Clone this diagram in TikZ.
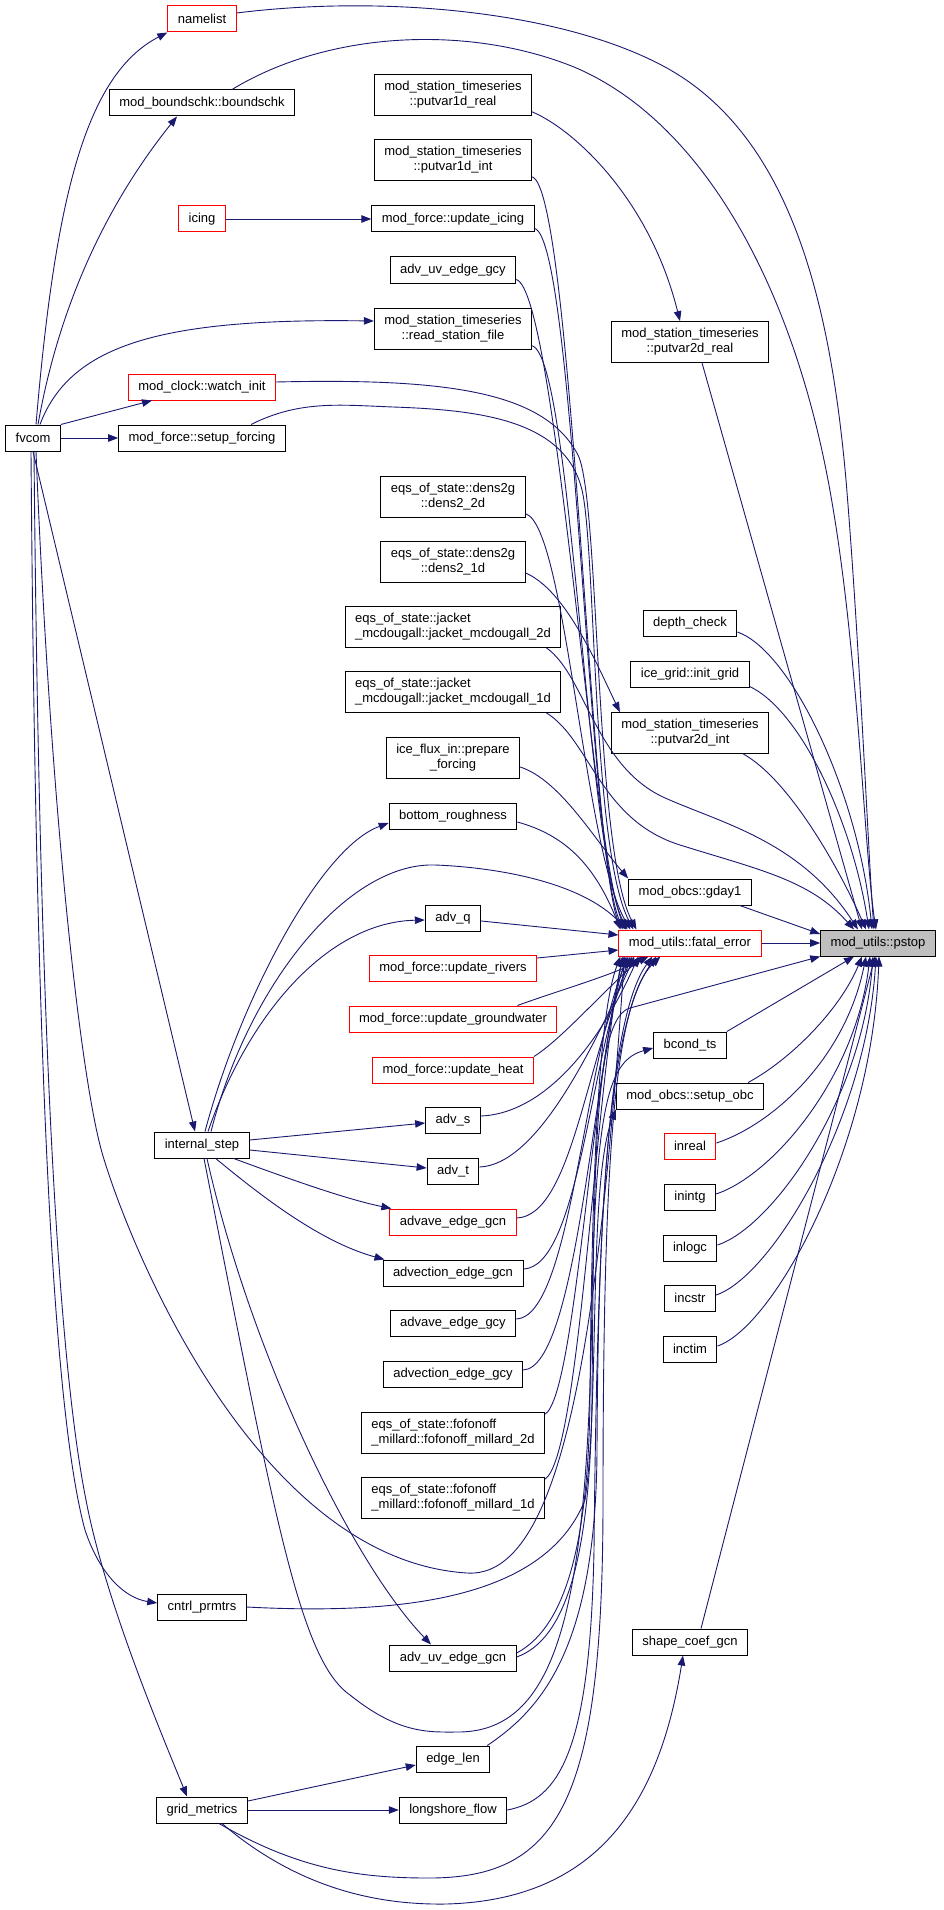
\documentclass[tikz,border=0pt]{standalone}
\usepackage{fontspec}
\setmainfont{Liberation Sans}
\usetikzlibrary{arrows.meta}
\definecolor{MidBlue}{HTML}{191970}
\definecolor{FrameRed}{HTML}{FF0000}
\definecolor{RootGray}{HTML}{BFBFBF}

\begin{document}
\begin{tikzpicture}[x = 1pt, y = -1pt,
                    >={Triangle[length = 10pt, width = 7.5pt]},
                    font = \fontsize{13}{15}\selectfont,
                    func/.style = {draw = black, line width = 1pt, fill = white, inner xsep = 10pt, inner ysep = 6.8pt, minimum height = 26pt, align = center},
                    redfunc/.style = {func, draw = FrameRed},
                    rootfunc/.style = {func, fill = RootGray},
                    link/.style = {->, draw = MidBlue, line width = 0.9pt}]
            \useasboundingbox (0,0) rectangle (943,1910);

            % Draw the callers on the left:
            \node [func] (fvcom) at (33,438) {fvcom};
            \node [redfunc] (namelist) at (202,19) {namelist};
            \node [func] (boundschk) at (202,103) {mod\_boundschk::boundschk};
            \node [redfunc] (icing) at (202,219) {icing};
            \node [redfunc] (watchinit) at (202,387) {mod\_clock::watch\_init};
            \node [func] (setupforcing) at (202,438) {mod\_force::setup\_forcing};
            \node [func] (internalstep) at (202,1145) {internal\_step};
            \node [func] (cntrlprmtrs) at (202,1607) {cntrl\_prmtrs};
            \node [func] (gridmetrics) at (202,1810) {grid\_metrics};

            % Draw the middle column:
            \node [func] (put1dreal) at (453,95) {mod\_station\_timeseries\\::putvar1d\_real};
            \node [func] (put1dint) at (453,160) {mod\_station\_timeseries\\::putvar1d\_int};
            \node [func] (updicing) at (453,219) {mod\_force::update\_icing};
            \node [func] (advuvgcy) at (453,270) {adv\_uv\_edge\_gcy};
            \node [func] (readstation) at (453,329) {mod\_station\_timeseries\\::read\_station\_file};
            \node [func] (dens2d) at (453,497) {eqs\_of\_state::dens2g\\::dens2\_2d};
            \node [func] (dens1d) at (453,562) {eqs\_of\_state::dens2g\\::dens2\_1d};
            \node [func, align = left] (jacket2d) at (453,627) {eqs\_of\_state::jacket\\\_mcdougall::jacket\_mcdougall\_2d};
            \node [func, align = left] (jacket1d) at (453,692) {eqs\_of\_state::jacket\\\_mcdougall::jacket\_mcdougall\_1d};
            \node [func] (prepforcing) at (453,758) {ice\_flux\_in::prepare\\\_forcing};
            \node [func] (bottomrough) at (453,816) {bottom\_roughness};
            \node [func] (advq) at (453,918) {adv\_q};
            \node [redfunc] (updrivers) at (453,968) {mod\_force::update\_rivers};
            \node [redfunc] (updgw) at (453,1019) {mod\_force::update\_groundwater};
            \node [redfunc] (updheat) at (453,1070) {mod\_force::update\_heat};
            \node [func] (advs) at (453,1120) {adv\_s};
            \node [func] (advt) at (453,1171) {adv\_t};
            \node [redfunc] (advavegcn) at (453,1222) {advave\_edge\_gcn};
            \node [func] (advectgcn) at (453,1273) {advection\_edge\_gcn};
            \node [func] (advavegcy) at (453,1323) {advave\_edge\_gcy};
            \node [func] (advectgcy) at (453,1374) {advection\_edge\_gcy};
            \node [func, align = left] (fofonoff2d) at (453,1433) {eqs\_of\_state::fofonoff\\\_millard::fofonoff\_millard\_2d};
            \node [func, align = left] (fofonoff1d) at (453,1498) {eqs\_of\_state::fofonoff\\\_millard::fofonoff\_millard\_1d};
            \node [func] (advuvgcn) at (453,1658) {adv\_uv\_edge\_gcn};
            \node [func] (edgelen) at (453,1759) {edge\_len};
            \node [func] (longshore) at (453,1810) {longshore\_flow};

            % Draw the column next to pstop:
            \node [func] (put2dreal) at (690,342) {mod\_station\_timeseries\\::putvar2d\_real};
            \node [func] (depthcheck) at (690,623) {depth\_check};
            \node [func] (initgrid) at (690,674) {ice\_grid::init\_grid};
            \node [func] (put2dint) at (690,733) {mod\_station\_timeseries\\::putvar2d\_int};
            \node [func] (gday) at (690,892) {mod\_obcs::gday1};
            \node [redfunc] (fatalerror) at (690,943) {mod\_utils::fatal\_error};
            \node [func] (bcondts) at (690,1045) {bcond\_ts};
            \node [func] (setupobc) at (690,1096) {mod\_obcs::setup\_obc};
            \node [redfunc] (inreal) at (690,1146) {inreal};
            \node [func] (inintg) at (690,1197) {inintg};
            \node [func] (inlogc) at (690,1248) {inlogc};
            \node [func] (incstr) at (690,1298) {incstr};
            \node [func] (inctim) at (690,1349) {inctim};
            \node [func] (shapecoef) at (690,1642) {shape\_coef\_gcn};

            \node [rootfunc] (pstop) at (878,943) {mod\_utils::pstop};

            % Draw the calls made by fvcom:
            \draw [link] ([xshift = 3pt]fvcom.north) .. controls (55,200) and (85,75) .. (namelist.south west);
            \draw [link] ([xshift = 5pt]fvcom.north) .. controls (60,300) and (110,200) .. ([xshift = -25pt]boundschk.south);
            \draw [link] (fvcom.north east) -- ([xshift = -50pt]watchinit.south);
            \draw [link] (fvcom.east) -- (setupforcing.west);
            \draw [link] ([xshift = 7pt]fvcom.north) .. controls (70,345) and (160,318) .. ([yshift = 8pt]readstation.west);
            \draw [link] (fvcom.south) -- ([xshift = -7pt]internalstep.north);
            \draw [link] ([xshift = -2pt]fvcom.south) .. controls (36,1100) and (55,1420) .. (85,1530)
                .. controls (100,1575) and (125,1598) .. ([yshift = 4pt]cntrlprmtrs.west);
            \draw [link] ([xshift = 1pt]fvcom.south) .. controls (40,1100) and (62,1380) .. (86,1500)
                .. controls (105,1600) and (160,1730) .. ([xshift = -15pt]gridmetrics.north);
            \draw [link] ([xshift = 3pt]fvcom.south) .. controls (50,800) and (80,1080) .. (103,1156)
                .. controls (133,1256) and (260,1560) .. (467,1573)
                .. controls (560,1579) and (598,1350) .. ([xshift = 6pt]fatalerror.south west);

            \draw [link] (icing.east) -- (updicing.west);

            % Draw the calls made by internal_step:
            \draw [link] ([yshift = 5pt]internalstep.east) -- ([yshift = -3pt]advs.west);
            \draw [link] ([yshift = -5pt]internalstep.east) -- ([yshift = 3pt]advt.west);
            \draw [link] ([xshift = -16pt]internalstep.south east) .. controls (300,1183) and (350,1200) .. ([xshift = 2pt]advavegcn.north west);
            \draw [link] ([xshift = -34pt]internalstep.south east) .. controls (260,1195) and (320,1242) .. ([xshift = 2pt]advectgcn.north west);
            \draw [link] ([xshift = 3pt]internalstep.north) .. controls (240,1000) and (320,848) .. ([yshift = -7pt]bottomrough.west);
            \draw [link] ([xshift = 6pt]internalstep.north) .. controls (250,1010) and (330,922) .. ([yshift = -2pt]advq.west);
            \draw [link] ([xshift = 9pt]internalstep.north) .. controls (250,980) and (350,862) .. (435,865)
                .. controls (490,867) and (580,880) .. ([xshift = 8pt]fatalerror.north west);
            \draw [link] ([xshift = 5pt]internalstep.south) .. controls (250,1350) and (350,1560) .. ([xshift = -22pt]advuvgcn.north);
            \draw [link] ([xshift = 2pt]internalstep.south) .. controls (275,1520) and (300,1660) .. (350,1695)
                .. controls (400,1735) and (430,1732) .. (460,1732)
                .. controls (560,1730) and (588,1600) .. (592,1300)
                .. controls (596,1100) and (610,1060) .. ([yshift = -3pt]bcondts.west);

            \draw [link] (cntrlprmtrs.east) .. controls (400,1615) and (545,1600) .. (585,1500)
                .. controls (600,1400) and (588,1180) .. (setupobc.south west);

            % Draw the calls made by grid_metrics:
            \draw [link] ([yshift = 9pt]gridmetrics.east) -- ([yshift = -6pt]edgelen.west);
            \draw [link] (gridmetrics.east) -- (longshore.west);
            \draw [link] ([xshift = 20pt]gridmetrics.south) .. controls (300,1890) and (380,1905) .. (446,1904)
                .. controls (600,1900) and (660,1800) .. ([xshift = -7pt]shapecoef.south);
            \draw [link] ([xshift = 17pt]gridmetrics.south) .. controls (300,1870) and (360,1878) .. (429,1878)
                .. controls (560,1878) and (603,1800) .. (603,1500)
                .. controls (603,1150) and (615,1000) .. ([xshift = 42pt]fatalerror.south west);

            % Draw the calls of fatal_error from below:
            \draw [link] ([xshift = -3pt]edgelen.north east) .. controls (540,1710) and (596,1650) .. (597,1450)
                .. controls (598,1200) and (610,1020) .. ([xshift = 38pt]fatalerror.south west);
            \draw [link] (longshore.east) .. controls (560,1800) and (590,1750) .. (594,1550)
                .. controls (597,1250) and (606,1020) .. ([xshift = 34pt]fatalerror.south west);
            \draw [link] ([yshift = 5pt]advuvgcn.east) .. controls (560,1630) and (588,1560) .. (590,1400)
                .. controls (592,1150) and (600,1010) .. ([xshift = 2pt]fatalerror.south west);
            \draw [link] ([yshift = 1pt]advuvgcn.east) .. controls (565,1640) and (590,1560) .. (592,1400)
                .. controls (594,1150) and (595,1018) .. (630,1008) -- (pstop.south west);
            \draw [link] ([yshift = -2pt]fofonoff2d.north east) .. controls (575,1395) and (590,1100) .. ([xshift = 5pt]fatalerror.south west);
            \draw [link] ([yshift = -2pt]fofonoff1d.north east) .. controls (580,1455) and (594,1100) .. ([xshift = 4pt]fatalerror.south west);
            \foreach \src/\cx/\dx in {advectgcy/594/8, advavegcy/584/10, advectgcn/590/12, advavegcn/586/14, advt/588/16, advs/592/20}
                \draw [link] ([yshift = 4pt]\src.east) .. controls +(55,-2) and (\cx,1060) .. ([xshift = \dx pt]fatalerror.south west);
            \draw [link] (updheat.north east) .. controls (560,1040) and (595,1000) .. ([xshift = 24pt]fatalerror.south west);
            \draw [link] ([xshift = -40pt]updgw.north east) .. controls (560,990) and (610,976) .. ([xshift = 30pt]fatalerror.south west);

            % Draw the calls of fatal_error from above:
            \foreach \src/\cx/\dx in {put1dint/590/3, updicing/588/5, advuvgcy/592/7, readstation/586/9, dens2d/584/12}
                \draw [link] ([yshift = 4pt]\src.south east) .. controls +(40,12) and (\cx,850) .. ([xshift = \dx pt]fatalerror.north west);
            \draw [link] ([yshift = 5pt]watchinit.east) .. controls (450,378) and (545,392) .. (578,455)
                .. controls (600,500) and (594,850) .. ([xshift = 18pt]fatalerror.north west);
            \draw [link] ([xshift = 49pt]setupforcing.north) .. controls (300,400) and (340,405) .. (393,407)
                .. controls (480,410) and (565,420) .. (582,490)
                .. controls (596,550) and (592,850) .. ([xshift = 15pt]fatalerror.north west);
            \draw [link] ([yshift = -6pt]bottomrough.east) .. controls (565,835) and (595,865) .. ([xshift = 2pt]fatalerror.north west);
            \draw [link] ([yshift = -3pt]advq.east) -- ([yshift = 8pt]fatalerror.west);
            \draw [link] ([yshift = 10pt]updrivers.east) -- ([yshift = -7pt]fatalerror.west);

            % Draw the other calls inside the middle columns:
            \draw [link] ([yshift = -9pt]prepforcing.east) .. controls (560,780) and (595,840) .. (gday.north west);
            \draw [link] ([yshift = -11pt]dens1d.east) .. controls (565,590) and (595,660) .. ([xshift = 9pt]put2dint.north west);
            \draw [link] ([yshift = 4pt]put1dreal.south east) .. controls (575,130) and (650,200) .. ([xshift = -10pt]put2dreal.north);

            % Draw the calls of pstop:
            \draw [link] ([yshift = 6pt]namelist.east) .. controls (380,-5) and (560,10) .. (665,67)
                .. controls (790,135) and (830,300) .. (846,480)
                .. controls (860,650) and (868,850) .. ([xshift = -4pt]pstop.north);
            \draw [link] ([xshift = 30pt]boundschk.north) .. controls (330,30) and (470,25) .. (574,67)
                .. controls (700,120) and (790,280) .. (828,480)
                .. controls (858,638) and (864,850) .. ([xshift = -2pt]pstop.north);
            \draw [link] ([xshift = 12pt]put2dreal.south) -- ([xshift = -16pt]pstop.north);
            \draw [link] ([yshift = -9pt]depthcheck.east) .. controls (790,650) and (858,790) .. ([xshift = -6pt]pstop.north);
            \draw [link] ([yshift = 1pt]initgrid.south east) .. controls (800,710) and (852,820) .. ([xshift = -9pt]pstop.north);
            \draw [link] ([xshift = -26pt]put2dint.south east) .. controls (790,780) and (840,870) .. ([xshift = -12pt]pstop.north);
            \draw [link] ([xshift = -15pt]jacket2d.south east) .. controls (585,675) and (595,765) .. (663,797)
                .. controls (720,823) and (800,840) .. ([xshift = -20pt]pstop.north);
            \draw [link] ([xshift = -15pt]jacket1d.south east) .. controls (590,740) and (600,820) .. (680,845)
                .. controls (760,870) and (810,880) .. ([xshift = -24pt]pstop.north);
            \draw [link] ([xshift = -12pt]gday.south east) -- ([yshift = 9pt]pstop.west);
            \draw [link] (fatalerror.east) -- (pstop.west);
            \draw [link] (bcondts.north east) -- ([xshift = -24pt]pstop.south);
            \draw [link] ([xshift = -16pt]setupobc.north east) .. controls (790,1060) and (840,1010) .. ([xshift = -16pt]pstop.south);
            \foreach \src/\cb/\cy/\dx in {inreal/845/1060/-12, inintg/855/1080/-8, inlogc/862/1100/-5, incstr/866/1120/-2, inctim/872/1150/1}
                \draw [link] ([yshift = 3pt]\src.east) .. controls +(55,-18) and (\cb,\cy) .. ([xshift = \dx pt]pstop.south);
            \draw [link] ([xshift = 11pt]shapecoef.north) -- ([xshift = -3pt]pstop.south);
        \end{tikzpicture}
\end{document}
